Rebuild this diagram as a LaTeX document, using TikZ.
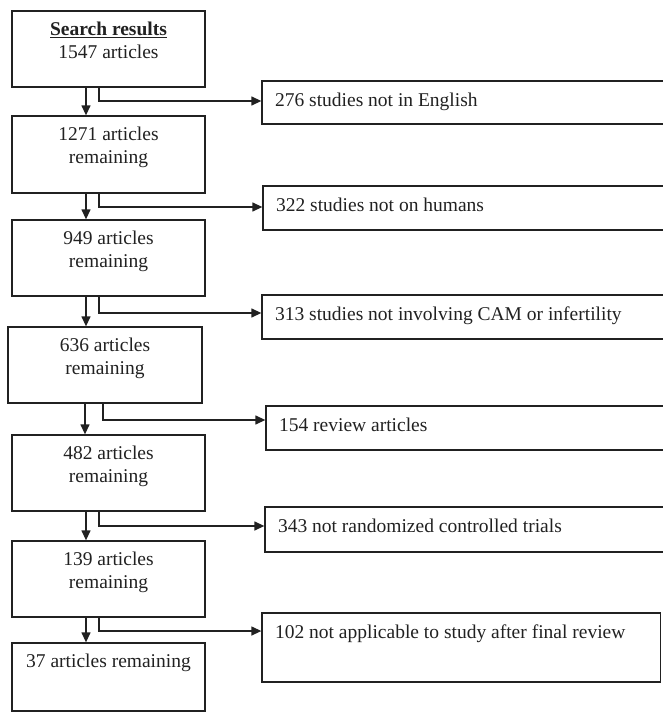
\documentclass[tikz,border=0pt]{standalone}
\usepackage{fontspec}
\setmainfont{Liberation Serif}
\usetikzlibrary{arrows.meta}
\definecolor{ink}{gray}{0.13}
\tikzset{
  box/.style={draw=ink, line width=1.3pt, rectangle, inner sep=0pt},
  lefttext/.style={anchor=north, inner sep=0pt, align=center, text=ink,
    font=\fontsize{19.5}{23.5}\selectfont, yshift=-11.3pt},
  righttext/.style={anchor=north west, inner sep=0pt, text=ink,
    font=\fontsize{19.5}{23.5}\selectfont, xshift=13.5pt, yshift=-12.3pt},
  conn/.style={draw=ink, line width=1.3pt, -{Triangle[length=10pt,width=9pt]}}
}
\begin{document}
\begin{tikzpicture}[x=1pt,y=-1pt]
\useasboundingbox (0,0) rectangle (663,712);
% left column boxes
\node[box, minimum width=193pt, minimum height=76pt] (B1) at (108.5,49) {};
\node[box, minimum width=193pt, minimum height=77pt] (B2) at (108.5,154.5) {};
\node[box, minimum width=193pt, minimum height=76pt] (B3) at (108.5,258) {};
\node[box, minimum width=194pt, minimum height=76pt] (B4) at (105,365) {};
\node[box, minimum width=193pt, minimum height=76pt] (B5) at (108.5,473) {};
\node[box, minimum width=193pt, minimum height=76pt] (B6) at (108.5,579) {};
\node[box, minimum width=193pt, minimum height=68pt] (B7) at (108.5,677) {};
\node[lefttext] (t1) at (B1.north) {\underline{\textbf{Search results}}\\1547 articles};
\node[lefttext] (t2) at (B2.north) {1271 articles\\remaining};
\node[lefttext] (t3) at (B3.north) {949 articles\\remaining};
\node[lefttext] (t4) at (B4.north) {636 articles\\remaining};
\node[lefttext] (t5) at (B5.north) {482 articles\\remaining};
\node[lefttext] (t6) at (B6.north) {139 articles\\remaining};
\node[lefttext] (t7) at (B7.north) {37 articles remaining};
% right column boxes
\node[box, minimum width=405pt, minimum height=43pt] (R1) at (464.5,102.5) {};
\node[box, minimum width=404pt, minimum height=44pt] (R2) at (465,208) {};
\node[box, minimum width=405pt, minimum height=44pt] (R3) at (464.5,317) {};
\node[box, minimum width=401pt, minimum height=44pt] (R4) at (466.5,428) {};
\node[box, minimum width=398.5pt, minimum height=45pt] (R5) at (464.25,529.5) {};
\node[box, minimum width=398.5pt, minimum height=69pt] (R6) at (461.25,647.5) {};
\node[righttext] (s1) at (R1.north west) {276 studies not in English};
\node[righttext] (s2) at (R2.north west) {322 studies not on humans};
\node[righttext] (s3) at (R3.north west) {313 studies not involving CAM or infertility};
\node[righttext] (s4) at (R4.north west) {154 review articles};
\node[righttext] (s5) at (R5.north west) {343 not randomized controlled trials};
\node[righttext] (s6) at (R6.north west) {102 not applicable to study after final review};
% guide coordinates
\coordinate (ax) at (86,0);
\coordinate (axb) at (85,0);
\coordinate (k1) at (99,101);
\coordinate (k2) at (99,207);
\coordinate (k3) at (99,313);
\coordinate (k4) at (103,420);
\coordinate (k5) at (99,526);
\coordinate (k6) at (99,631);
% down arrows
\draw[conn] (B1.south -| ax) -- (B2.north -| ax);
\draw[conn] (B2.south -| ax) -- (B3.north -| ax);
\draw[conn] (B3.south -| ax) -- (B4.north -| ax);
\draw[conn] (B4.south -| axb) -- (B5.north -| axb);
\draw[conn] (B5.south -| ax) -- (B6.north -| ax);
\draw[conn] (B6.south -| ax) -- (B7.north -| ax);
% branch arrows
\draw[conn] (B1.south -| k1) |- (R1.west |- k1);
\draw[conn] (B2.south -| k2) |- (R2.west |- k2);
\draw[conn] (B3.south -| k3) |- (R3.west |- k3);
\draw[conn] (B4.south -| k4) |- (R4.west |- k4);
\draw[conn] (B5.south -| k5) |- (R5.west |- k5);
\draw[conn] (B6.south -| k6) |- (R6.west |- k6);
\end{tikzpicture}
\end{document}
